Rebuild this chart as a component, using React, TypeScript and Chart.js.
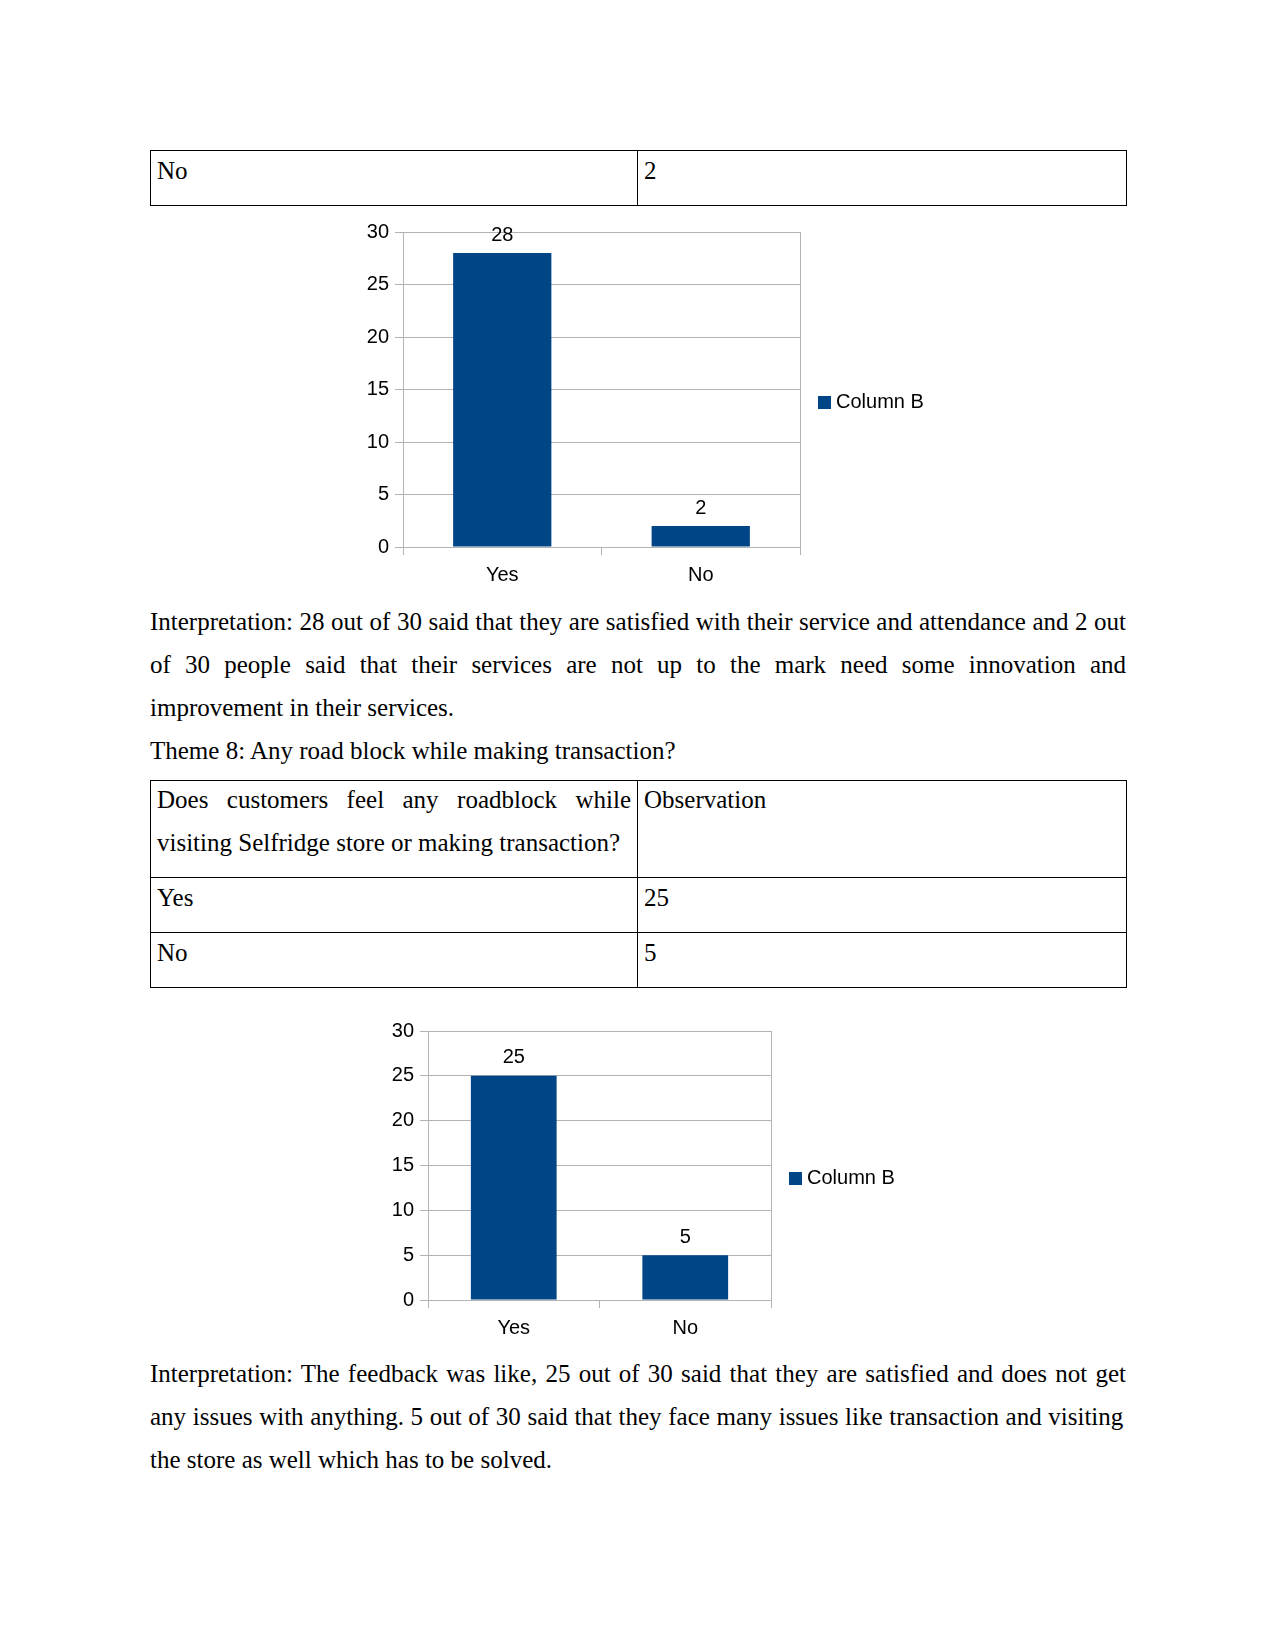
import React, { useEffect, useRef } from "react";
import { Chart, registerables } from "chart.js";

Chart.register(...registerables);

// ---- data ----
const CATEGORIES = ["Yes", "No"];
const SERVICE_VALUES = [28, 2];
const ROADBLOCK_VALUES = [25, 5];
const SERIES_LABEL = "Column B";
const Y_MIN = 0;
const Y_MAX = 30;
const Y_STEP = 5;

const BAR_COLOR = "#004586";
const GRID_COLOR = "#b3b3b3";
const CHART_FONT = "Liberation Sans, Arial, sans-serif";
const SERIF = "'Liberation Serif', 'Times New Roman', serif";
const FS = 20;

type BarChartProps = {
  values: number[];
  left: number;
  top: number;
  width: number;
  height: number;
  yAxisWidth: number;
  xAxisHeight: number;
  padTop: number;
  padRight: number;
  barPct: number;
  xLabelPad: number;
};

function BarChart(p: BarChartProps) {
  const ref = useRef<HTMLCanvasElement | null>(null);
  useEffect(() => {
    if (!ref.current) return;
    const labelsPlugin = {
      id: "valueLabels",
      afterDatasetsDraw(chart: any) {
        const ctx = chart.ctx;
        const meta = chart.getDatasetMeta(0);
        ctx.save();
        ctx.font = `${FS}px ${CHART_FONT}`;
        ctx.fillStyle = "#000";
        ctx.textAlign = "center";
        ctx.textBaseline = "middle";
        meta.data.forEach((bar: any, i: number) => {
          ctx.fillText(String(chart.data.datasets[0].data[i]), bar.x, bar.y - 18);
        });
        ctx.restore();
      },
    };
    const framePlugin = {
      id: "frameAndLegend",
      afterDraw(chart: any) {
        const ctx = chart.ctx;
        const a = chart.chartArea;
        ctx.save();
        ctx.strokeStyle = GRID_COLOR;
        ctx.lineWidth = 1;
        ctx.beginPath();
        ctx.moveTo(Math.round(a.right) + 0.5, a.top);
        ctx.lineTo(Math.round(a.right) + 0.5, a.bottom);
        ctx.stroke();
        // legend
        const cy = (a.top + a.bottom) / 2 + 13;
        ctx.fillStyle = BAR_COLOR;
        ctx.fillRect(a.right + 18, cy - 6.5, 13, 13);
        ctx.fillStyle = "#000";
        ctx.font = `${FS}px ${CHART_FONT}`;
        ctx.textAlign = "left";
        ctx.textBaseline = "middle";
        ctx.fillText(chart.data.datasets[0].label, a.right + 36, cy);
        ctx.restore();
      },
    };
    const chart = new Chart(ref.current, {
      type: "bar",
      data: {
        labels: CATEGORIES,
        datasets: [
          {
            label: SERIES_LABEL,
            data: p.values,
            backgroundColor: BAR_COLOR,
            borderWidth: 0,
            categoryPercentage: 1,
            barPercentage: p.barPct,
          },
        ],
      },
      options: {
        responsive: false,
        animation: false,
        layout: { padding: { top: p.padTop, right: p.padRight, left: 0, bottom: 0 } },
        plugins: { legend: { display: false }, tooltip: { enabled: false } },
        scales: {
          x: {
            grid: {
              display: true,
              drawOnChartArea: false,
              drawTicks: true,
              tickLength: 8,
              color: GRID_COLOR,
              offset: true,
            },
            border: { display: true, color: GRID_COLOR },
            ticks: { color: "#000", font: { size: FS, family: CHART_FONT }, padding: p.xLabelPad },
            afterFit: (s: any) => {
              s.height = p.xAxisHeight;
            },
          },
          y: {
            min: Y_MIN,
            max: Y_MAX,
            ticks: {
              stepSize: Y_STEP,
              color: "#000",
              font: { size: FS, family: CHART_FONT },
              padding: 6,
            },
            grid: { color: GRID_COLOR, tickLength: 8, drawTicks: true },
            border: { display: true, color: GRID_COLOR },
            afterFit: (s: any) => {
              s.width = p.yAxisWidth;
            },
          },
        },
      },
      plugins: [labelsPlugin, framePlugin],
    });
    return () => chart.destroy();
  }, []);
  return (
    <canvas
      ref={ref}
      width={p.width}
      height={p.height}
      style={{ position: "absolute", left: p.left, top: p.top, width: p.width, height: p.height }}
    />
  );
}

const textBase: React.CSSProperties = {
  position: "absolute",
  left: 150,
  width: 976,
  fontFamily: SERIF,
  fontSize: 25,
  lineHeight: "43px",
  color: "#000",
  whiteSpace: "nowrap",
};

function Line({ top, text, justify, left = 150, width = 976, wordSpacing = 0 }: { top: number; text: string; justify?: boolean; left?: number; width?: number; wordSpacing?: number }) {
  return (
    <div
      style={{
        ...textBase,
        left,
        width,
        top,
        wordSpacing,
        whiteSpace: justify ? "normal" : "nowrap",
        textAlign: justify ? "justify" : "left",
        textAlignLast: justify ? "justify" : "left",
      } as React.CSSProperties}
    >
      {text}
    </div>
  );
}

function Box({ left, top, width, height }: { left: number; top: number; width: number; height: number }) {
  return (
    <div
      style={{
        position: "absolute",
        left,
        top,
        width,
        height,
        border: "1px solid #000",
        boxSizing: "border-box",
      }}
    />
  );
}

export default function App() {
  return (
    <div style={{ position: "absolute", left: 0, top: 0, width: 1275, height: 1650, background: "#fff", overflow: "hidden" }}>
      {/* table 1 */}
      <Box left={150} top={150} width={488} height={56} />
      <Box left={637} top={150} width={490} height={56} />
      <Line top={149} left={157} width={470} text="No" />
      <Line top={149} left={644} width={470} text="2" />

      <BarChart values={SERVICE_VALUES} left={340} top={211} width={600} height={380} yAxisWidth={63} xAxisHeight={44} padTop={21} padRight={140} barPct={0.495} xLabelPad={8} />

      <Line top={600} text="Interpretation: 28 out of 30 said that they are satisfied with their service and attendance and 2 out" justify />
      <Line top={643} text="of 30 people said that their services are not up to the mark need some innovation and" justify />
      <Line top={686} text="improvement in their services." />
      <Line top={729} text="Theme 8: Any road block while making transaction?" />

      {/* table 2 */}
      <Box left={150} top={780} width={488} height={98} />
      <Box left={637} top={780} width={490} height={98} />
      <Box left={150} top={877} width={488} height={56} />
      <Box left={637} top={877} width={490} height={56} />
      <Box left={150} top={932} width={488} height={56} />
      <Box left={637} top={932} width={490} height={56} />
      <Line top={778} left={157} width={474} text="Does customers feel any roadblock while" justify />
      <Line top={821} left={157} width={474} text="visiting Selfridge store or making transaction?" />
      <Line top={778} left={644} width={470} text="Observation" />
      <Line top={876} left={157} width={470} text="Yes" />
      <Line top={876} left={644} width={470} text="25" />
      <Line top={931} left={157} width={470} text="No" />
      <Line top={931} left={644} width={470} text="5" />

      <BarChart values={ROADBLOCK_VALUES} left={370} top={1011} width={560} height={330} yAxisWidth={58} xAxisHeight={41} padTop={20} padRight={159} barPct={0.5} xLabelPad={8} />

      <Line top={1352} text="Interpretation: The feedback was like, 25 out of 30 said that they are satisfied and does not get" justify />
      <Line top={1395} text="any issues with anything. 5 out of 30 said that they face many issues like transaction and visiting" wordSpacing={0.4} />
      <Line top={1438} text="the store as well which has to be solved." />
    </div>
  );
}
